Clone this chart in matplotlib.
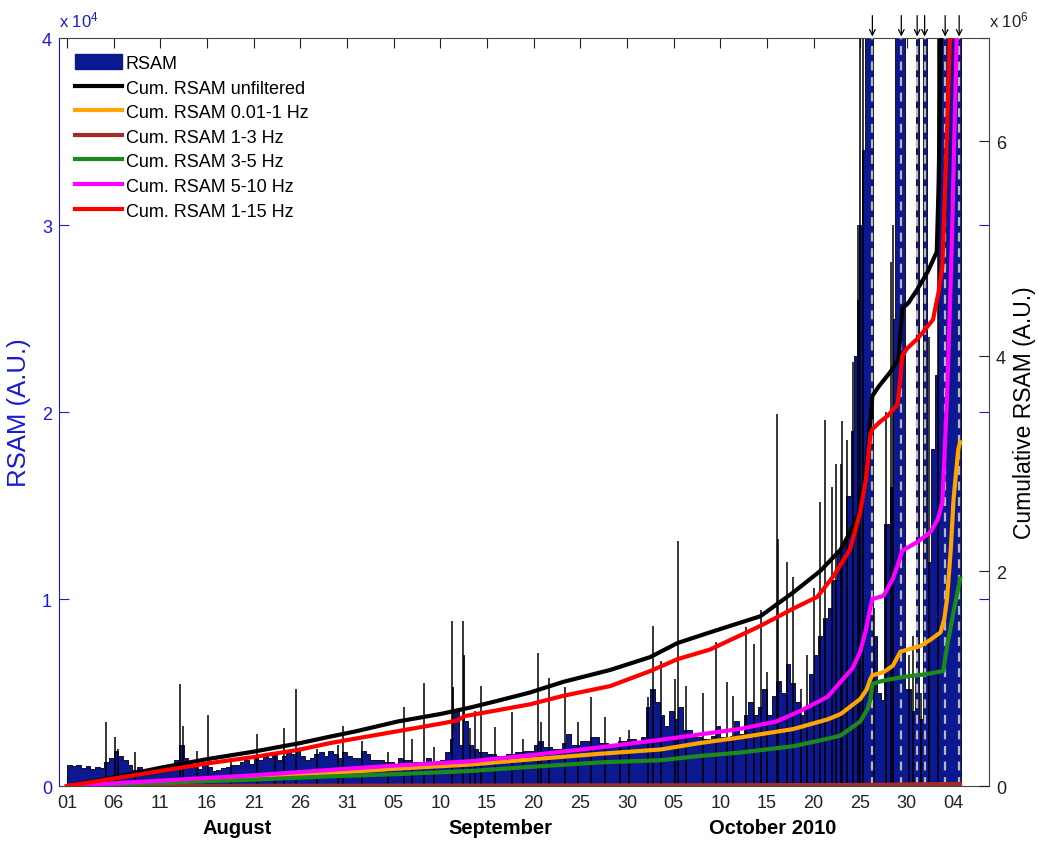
import matplotlib
matplotlib.use("Agg")
import matplotlib.pyplot as plt
import matplotlib.transforms as mtrans
import numpy as np
from datetime import datetime, timedelta
from matplotlib.patches import Patch

plt.rcParams["font.family"] = ["Liberation Sans", "DejaVu Sans"]
plt.rcParams["mathtext.fontset"] = "custom"
plt.rcParams["mathtext.rm"] = "Liberation Sans"
plt.rcParams["mathtext.default"] = "regular"

# time is in days since 2010-08-01 00:00
start = datetime(2010, 8, 1)

# RSAM envelope (A.U.), step values starting at each day
rsam_day = [
    0, 0.5, 1, 1.5, 2, 2.5, 3, 3.5, 4, 4.5, 5, 5.5, 6, 6.5, 7, 7.5, 8, 8.5, 9, 9.5,
    10, 10.5, 11, 11.5, 12, 12.5, 13, 13.5, 14, 14.5, 15, 15.5, 16, 16.5, 17, 17.5,
    18, 18.5, 19, 19.5, 20, 20.5, 21, 21.5, 22, 22.5, 23, 23.5, 24, 24.5, 25, 25.5,
    26, 26.5, 27, 27.5, 28, 28.5, 29, 29.5, 30, 30.5,
    31, 31.5, 32, 32.5, 33, 34, 35, 35.5, 36, 37, 38, 38.5, 39, 40, 40.5, 41, 41.2,
    41.35, 41.5, 42, 42.4, 42.55, 43, 43.5, 44, 45, 46, 47, 48, 49, 50, 50.5, 51, 52,
    53, 53.5, 54, 55, 56, 57, 58, 59, 60,
    61, 61.5, 62, 62.5, 63, 63.5, 64, 64.5, 65, 65.5, 66, 67, 68, 69, 69.5, 70, 71,
    71.5, 72, 72.5, 73, 73.5, 74, 74.5, 75, 75.5, 76, 76.5, 77, 77.5, 78, 78.5, 79,
    79.5, 80, 80.5, 81, 81.5, 82, 82.5, 83, 83.5, 84, 84.3, 84.6, 84.9, 85.2, 85.5,
    86.4, 86.8, 87.2, 87.5, 88.2, 88.5, 88.7, 89.8, 90.4, 90.9, 91.0, 91.25, 91.7,
    92.1, 92.6, 93.0, 93.3, 95.75,
]
rsam_val = [
    1150, 1050, 1100, 950, 1050, 900, 1000, 950, 1300, 1500, 1900, 1600, 1400, 1100, 850, 1000, 750, 700, 650, 700,
    750, 800, 900, 1400, 2200, 1500, 1200, 1000, 900, 1200, 1000, 800, 850, 950, 1000, 1100,
    1150, 1300, 1400, 1200, 1500, 1400, 1600, 1500, 1700, 1400, 1600, 1800, 1700, 1900, 1600, 1400,
    1500, 1700, 1800, 1600, 1900, 1700, 1500, 1800, 1600, 1500,
    1500, 1900, 1700, 1400, 1400, 1300, 1200, 1500, 1400, 1300, 1200, 1500, 1300, 1400, 1800, 2500, 5300,
    3000, 4000, 2200, 7000, 3500, 2200, 2000, 1800, 1700, 1600, 1700, 1800, 1900, 2200, 2400, 2100, 2000,
    2300, 2800, 2200, 2400, 2600, 2300, 2200, 2400, 2500,
    2400, 2600, 4200, 5200, 4500, 3800, 3200, 4000, 3600, 4200, 3000, 2600, 2500, 2700, 3200, 2600, 2700,
    3500, 2800, 3800, 4500, 3800, 4200, 5200, 3800, 4800, 5600, 5000, 6500, 5500, 4500, 3800, 4200,
    6000, 7000, 8000, 9000, 9500, 11000, 12500, 13000, 15500, 19000, 23000, 26000, 30000, 34000, 42000,
    8000, 5000, 4600, 14000, 16000, 25000, 42000, 5200, 4000, 6000, 42000, 3600, 42000,
    12000, 18000, 22000, 42000, 42000,
]

# short RSAM peaks (A.U.)
spike_day = [
    4.2, 5.1, 5.5, 7.3, 12.1, 12.4, 13.9, 15.1, 17.6, 20.4, 22.3, 23.3, 24.5, 26.8, 29.0, 29.6,
    31.6, 34.4, 36.1, 37.0, 38.2, 39.3, 41.2, 42.4, 43.2, 43.7, 44.4, 45.9, 47.7, 48.9, 50.5, 50.8,
    51.6, 53.4, 54.8, 56.2, 57.7, 59.3, 60.2,
    62.3, 62.8, 63.7, 65.1, 65.5, 66.3, 68.1, 69.5, 70.7, 71.4, 72.8, 73.6, 74.4, 75.0, 76.1, 76.2,
    77.1, 77.8, 78.6, 79.3, 80.0, 80.7, 81.2, 82.0, 82.4, 82.9, 83.0, 83.6, 84.2, 84.8, 85.0, 85.3,
    86.5, 87.8, 88.3, 88.5, 90.2, 90.6, 91.5, 92.4, 93.3,
]
spike_val = [
    3400, 2600, 2000, 1800, 5450, 3200, 1900, 3800, 1500, 2800, 1700, 3100, 5200, 2000, 2200, 3200,
    2400, 1800, 4200, 2500, 5500, 2100, 8800, 8800, 3100, 4000, 5350, 3150, 3950, 2500, 7100, 3400,
    5800, 5300, 3400, 4750, 3700, 2600, 3000,
    4750, 8550, 6700, 5700, 13100, 5350, 5000, 7700, 5550, 4800, 8500, 7600, 9400, 6100, 19900, 13200,
    12000, 11200, 5200, 7000, 10600, 15200, 19600, 16000, 17200, 17200, 19500, 18500, 22700, 30000, 40000, 40000,
    9500, 20000, 28000, 30000, 7000, 8000, 5000, 24000, 40000,
]

# eruptions (arrows + dashed lines)
eruption_day = [86.3, 89.4, 91.1, 91.9, 94.1, 95.6]

# cumulative RSAM, units of 1e6
unf_day = [0, 5, 10, 15, 20, 25, 28.2, 31, 35.4, 40, 43.2, 46, 49.6, 53.2, 58.2, 62.5, 65.4, 68.9,
           74.3, 77.8, 80.7, 82.9, 83.9, 85.0, 85.6, 86.0, 86.3, 87.0, 88.2, 89.1, 89.3, 89.5, 90.2,
           91.1, 92.2, 93.2, 93.4, 93.7]
unf_val = [0, 0.08, 0.17, 0.25, 0.32, 0.40, 0.46, 0.51, 0.60, 0.67, 0.73, 0.79, 0.87, 0.97, 1.08, 1.20, 1.33, 1.43,
           1.58, 1.80, 2.00, 2.20, 2.36, 2.56, 2.90, 3.30, 3.63, 3.72, 3.85, 3.97, 4.20, 4.44, 4.50,
           4.62, 4.78, 4.97, 5.60, 7.30]

lf_day = [0, 10, 20, 28.2, 35, 43.2, 50, 57.1, 63.6, 67.8, 72, 77.8, 81.5, 82.9, 85.0, 85.7, 86.1, 86.3,
          87.5, 88.5, 89.3, 90.5, 91.4, 92.5, 93.6, 94.0, 94.3, 94.7, 95.0, 95.5, 95.7]
lf_val = [0, 0.04, 0.08, 0.12, 0.16, 0.20, 0.25, 0.30, 0.34, 0.40, 0.45, 0.53, 0.62, 0.67, 0.81, 0.90, 1.00, 1.03,
          1.06, 1.12, 1.25, 1.28, 1.30, 1.36, 1.43, 1.55, 1.74, 2.20, 2.67, 3.13, 3.20]

b13_day = [0, 30, 60, 85, 95.7]
b13_val = [0, 0.003, 0.006, 0.010, 0.020]

b35_day = [0, 10, 20, 28.2, 35, 43.2, 50, 57.1, 63.6, 67.8, 72, 77.8, 81.5, 82.9, 85.0, 85.8, 86.1, 86.3,
           87.0, 88.0, 90.0, 92.0, 93.9, 94.3, 95.0, 95.7]
b35_val = [0, 0.03, 0.06, 0.09, 0.11, 0.14, 0.18, 0.22, 0.24, 0.28, 0.31, 0.37, 0.44, 0.47, 0.60, 0.72, 0.81, 0.95,
           0.97, 0.99, 1.02, 1.04, 1.07, 1.30, 1.62, 1.93]

b510_day = [0, 10, 20, 28.2, 35, 43.2, 50, 57.1, 63.6, 67.8, 72, 76, 78.6, 81.5, 82.9, 84.2, 85.0, 85.6,
            86.1, 86.3, 87.5, 88.5, 89.0, 89.5, 91.1, 92.5, 93.3, 93.8, 94.3, 94.8, 95.4]
b510_val = [0, 0.05, 0.10, 0.15, 0.19, 0.23, 0.29, 0.36, 0.43, 0.48, 0.53, 0.60, 0.70, 0.83, 0.97, 1.10, 1.25, 1.45,
            1.67, 1.74, 1.77, 1.93, 2.05, 2.19, 2.27, 2.36, 2.48, 2.64, 3.60, 5.00, 7.20]

b115_day = [0, 5, 10, 15, 20, 25, 28.2, 35.4, 40, 41.8, 42.6, 49.6, 53.2, 58.2, 62.5, 65.4, 68.9, 74.3,
            77.8, 80.4, 82.1, 83.9, 85.0, 85.6, 86.1, 86.3, 87.0, 88.0, 89.0, 89.3, 89.5, 90.0, 91.1,
            91.7, 92.8, 93.4, 93.8, 94.3, 94.6, 94.8]
b115_val = [0, 0.07, 0.14, 0.21, 0.27, 0.34, 0.40, 0.51, 0.58, 0.61, 0.65, 0.76, 0.84, 0.93, 1.07, 1.18, 1.27, 1.49,
            1.65, 1.76, 1.95, 2.20, 2.55, 2.85, 3.28, 3.32, 3.38, 3.45, 3.55, 3.80, 4.00, 4.07, 4.16,
            4.22, 4.34, 4.60, 4.84, 6.08, 6.95, 7.30]

navy = "#0b1890"
blue = "#1a1ad6"
fs = 13

fig = plt.figure(figsize=(10.39, 8.45), dpi=100)
ax1 = fig.add_axes([0.0568, 0.0686, 0.8951, 0.8852])
ax2 = ax1.twinx()

# RSAM
ax1.fill_between(rsam_day, np.array(rsam_val) / 1e4, step="post", facecolor=navy,
                 edgecolor="black", lw=0.6, zorder=2)
ax1.vlines(spike_day, 0, np.array(spike_val) / 1e4, color="black", lw=1.1, zorder=2)
for d in eruption_day:
    ax1.axvline(d, color="#b8b8b8", lw=1.6, ls=(0, (4, 3)), zorder=3)

ax1.set_xlim(-0.86, 98.8)
ax1.set_ylim(0, 4)
ax1.set_yticks([0, 1, 2, 3, 4])

ticks = np.arange(0, 96, 5)
ax1.set_xticks(ticks)
ax1.set_xticklabels([(start + timedelta(days=int(t))).strftime("%d") for t in ticks])

ax1.tick_params(axis="x", direction="in", length=7, top=True, labelsize=fs, pad=6, colors="#222222")
ax1.tick_params(axis="y", direction="in", length=7, right=True, labelsize=fs, pad=5,
                colors=blue, labelcolor=blue)
ax1.spines["left"].set_color(blue)
for s in ["top", "right", "bottom"]:
    ax1.spines[s].set_color("#444444")

# cumulative curves
lw = 3.0
l_unf, = ax2.plot(unf_day, unf_val, color="black", lw=lw)
l_lf, = ax2.plot(lf_day, lf_val, color="#ffa500", lw=lw)
l_13, = ax2.plot(b13_day, b13_val, color="#a52a2a", lw=lw)
l_35, = ax2.plot(b35_day, b35_val, color="#1b8a1b", lw=lw)
l_510, = ax2.plot(b510_day, b510_val, color="#ff00ff", lw=lw)
l_115, = ax2.plot(b115_day, b115_val, color="#ff0000", lw=lw)

ax2.set_ylim(0, 6.96)
ax2.set_yticks([0, 2, 4, 6])
ax2.set_yticklabels(["0", "2", "4", "6"])
ax2.tick_params(axis="y", direction="in", length=7, labelsize=fs, pad=5, colors="#222222")
for s in ax2.spines.values():
    s.set_visible(False)

ax1.set_ylabel("RSAM (A.U.)", color=blue, fontsize=18.5, labelpad=8)
ax2.set_ylabel("Cumulative RSAM (A.U.)", fontsize=16.5, labelpad=5)

ax1.text(0.0, 1.012, r"x 10$^{4}$", transform=ax1.transAxes, color=blue, fontsize=12,
         ha="left", va="bottom")
ax2.text(1.0, 1.012, r"x 10$^{6}$", transform=ax2.transAxes, color="#222222", fontsize=12,
         ha="left", va="bottom")

# month labels
tr = mtrans.blended_transform_factory(ax1.transData, ax1.transAxes)
for d, name in [(18.2, "August"), (46.4, "September"), (75.6, "October 2010")]:
    ax1.text(d, -0.055, name, transform=tr, ha="center", va="center", fontsize=14.5,
             fontweight="bold")

# eruption arrows
for d in eruption_day:
    ax1.annotate("", xy=(d, 1.002), xycoords=tr, xytext=(d, 1.03), textcoords=tr,
                 arrowprops=dict(arrowstyle="->", lw=0.9, color="black",
                                 shrinkA=0, shrinkB=0, mutation_scale=10),
                 annotation_clip=False)

handles = [Patch(facecolor=navy, edgecolor=navy), l_unf, l_lf, l_13, l_35, l_510, l_115]
labels = ["RSAM", "Cum. RSAM unfiltered", "Cum. RSAM 0.01-1 Hz", "Cum. RSAM 1-3 Hz",
          "Cum. RSAM 3-5 Hz", "Cum. RSAM 5-10 Hz", "Cum. RSAM 1-15 Hz"]
ax2.legend(handles, labels, loc="upper left", bbox_to_anchor=(0.0, 1.0), frameon=False,
           fontsize=fs, handlelength=2.6, handleheight=0.9, handletextpad=0.2,
           labelspacing=0.38, borderaxespad=0.5)

fig.savefig("out.png", dpi=100)
